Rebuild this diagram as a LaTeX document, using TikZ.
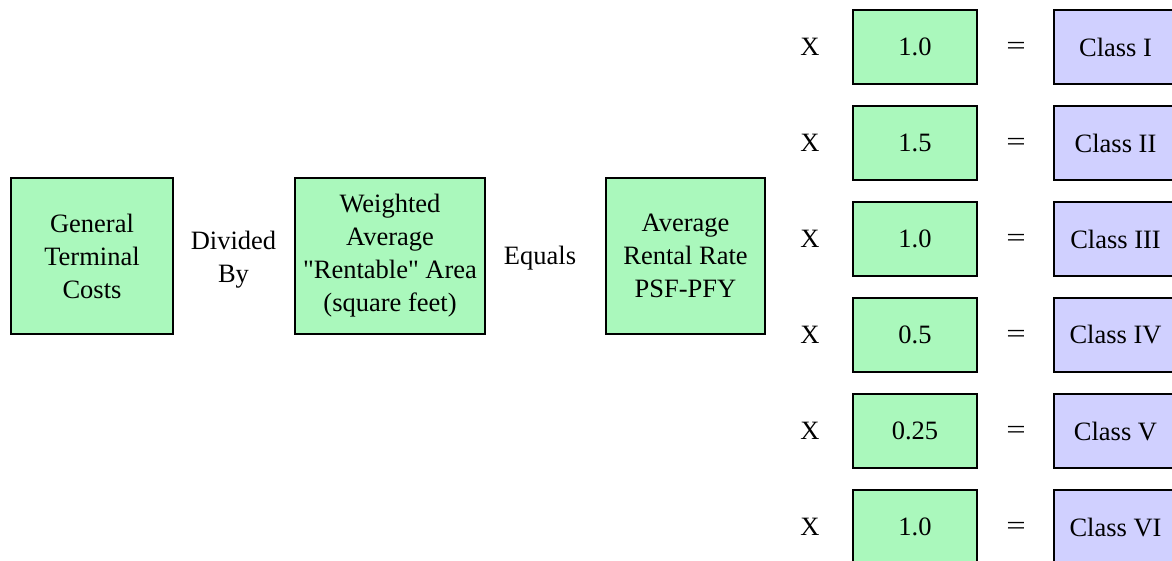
\documentclass[tikz,border=0pt]{standalone}
\usepackage{fontspec}
\setmainfont{Liberation Serif}[Ligatures=TeXOff]
\definecolor{boxgreen}{RGB}{170,248,188}
\definecolor{boxpurple}{RGB}{208,208,255}
\tikzset{
  txt/.style={font=\fontsize{26.5}{33}\selectfont, align=center, inner sep=0pt},
  bigbox/.style={txt, draw=black, line width=2.8pt, fill=boxgreen, minimum height=156pt},
  factorbox/.style={txt, draw=black, line width=2.8pt, fill=boxgreen, minimum width=124pt, minimum height=74pt},
  classbox/.style={txt, draw=black, line width=2.8pt, fill=boxpurple, minimum width=123pt, minimum height=74pt},
}
\begin{document}
\begin{tikzpicture}[x=1pt,y=-1pt]
\useasboundingbox (0,0) rectangle (1172,560);
\node[bigbox, minimum width=162pt] (gtc) at (92,256) {General\\Terminal\\Costs};
\node[txt] (div) at (233.5,260) {Divided\\By};
\node[bigbox, minimum width=190pt] (area) at (390,256) {Weighted\\Average\\"Rentable" Area\\(square feet)};
\node[txt] (eq) at (540,258) {Equals};
\node[bigbox, minimum width=159pt] (rate) at (685.5,256) {Average\\Rental Rate\\PSF-PFY};
\foreach \i/\f/\c [count=\n] in {0/1.0/I, 1/1.5/II, 2/1.0/III, 3/0.5/IV, 4/0.25/V, 5/1.0/VI} {
  \pgfmathsetmacro{\yy}{47+96*\i}
  \node[txt] (x\n) at (810,\yy) {X};
  \node[factorbox] (f\n) at (915,\yy) {\f};
  \node[txt] (e\n) at (1016,\yy+1.5) {\scalebox{1.3}[1]{=}};
  \node[classbox] (c\n) at (1115.5,\yy) {Class \c};
}
\end{tikzpicture}
\end{document}
